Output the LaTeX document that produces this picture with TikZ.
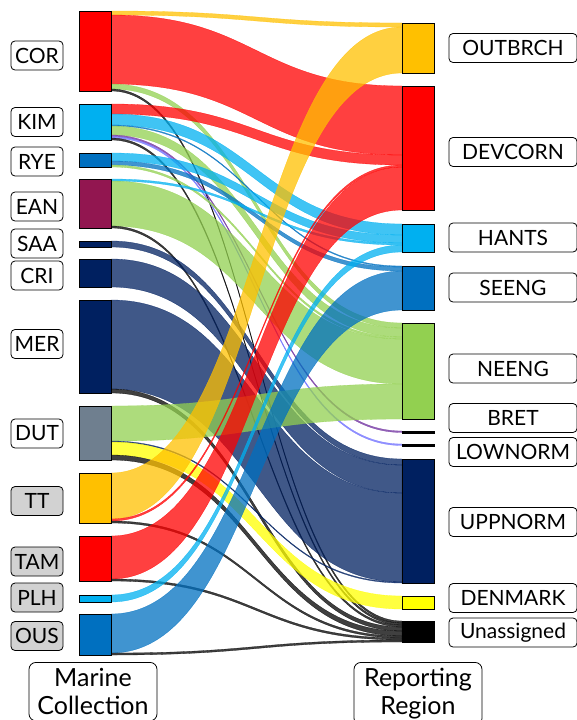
\documentclass[tikz,border=0pt]{standalone}
\usepackage{fontspec}
\setmainfont{Lato}
\usetikzlibrary{calc, backgrounds}
\definecolor{cred}{HTML}{FF0000}
\definecolor{csky}{HTML}{00B0F0}
\definecolor{cblue}{HTML}{0070C0}
\definecolor{cwine}{HTML}{921650}
\definecolor{cnavy}{HTML}{002060}
\definecolor{cslate}{HTML}{6F7F8F}
\definecolor{camber}{HTML}{FFC000}
\definecolor{clime}{HTML}{92D050}
\definecolor{cyell}{HTML}{FFFF00}
\definecolor{cpurp}{HTML}{7030A0}
\definecolor{cviol}{HTML}{6F6FFF}

% band from source node to region node: src, offset, dst, offset, width, colour
\newcommand{\sflow}[6]{%
  \fill[flow, #6] ($(#1.north east)+(0,#2)$) .. controls +(145,0) and +(-145,0) .. ($(#3.north west)+(0,#4)$)
    -- ($(#3.north west)+(0,#4+#5)$) .. controls +(-145,0) and +(145,0) .. ($(#1.north east)+(0,#2+#5)$) -- cycle;}

\begin{document}
\begin{tikzpicture}[x=1pt, y=-1pt, font=\fontsize{21}{28}\selectfont,
    bar/.style={draw, line width=0.8pt, anchor=north west, minimum width=32, inner sep=0, outer sep=0},
    llab/.style={draw, line width=0.8pt, rounded corners=4pt, minimum width=52, minimum height=29, inner sep=0, fill=white},
    rlab/.style={llab, minimum width=128},
    ttl/.style={draw, line width=0.8pt, rounded corners=7pt, align=center, anchor=north, minimum width=128,
        inner ysep=6, font=\fontsize{25}{28}\selectfont},
    flow/.style={fill opacity=0.75, draw=white, draw opacity=0.8, line width=0.3pt}]
    \useasboundingbox (0,0) rectangle (577,720);

    % marine collections
    \node[bar, fill=cred, minimum height=80] (cor) at (79,11) {};
    \node[bar, fill=csky, minimum height=36] (kim) at (79,104) {};
    \node[bar, fill=cblue, minimum height=14] (rye) at (79,153) {};
    \node[bar, fill=cwine, minimum height=49] (ean) at (79,179) {};
    \node[bar, fill=cnavy, minimum height=6] (saa) at (79,241) {};
    \node[bar, fill=cnavy, minimum height=28] (cri) at (79,259) {};
    \node[bar, fill=cnavy, minimum height=93] (mer) at (79,300) {};
    \node[bar, fill=cslate, minimum height=54] (dut) at (79,406) {};
    \node[bar, fill=camber, minimum height=50] (tt) at (79,473) {};
    \node[bar, fill=cred, minimum height=45] (tam) at (79,536) {};
    \node[bar, fill=csky, minimum height=7] (plh) at (79,595) {};
    \node[bar, fill=cblue, minimum height=41] (ous) at (79,614) {};

    % reporting regions
    \node[bar, fill=camber, minimum height=50] (outbrch) at (402,23) {};
    \node[bar, fill=cred, minimum height=124] (devcorn) at (402,86) {};
    \node[bar, fill=csky, minimum height=28] (hants) at (402,224) {};
    \node[bar, fill=cblue, minimum height=44] (seeng) at (402,266) {};
    \node[bar, fill=clime, minimum height=96] (neeng) at (402,323) {};
    \node[bar, fill=black, minimum height=2] (bret) at (402,431) {};
    \node[bar, fill=black, minimum height=2] (lownorm) at (402,444) {};
    \node[bar, fill=cnavy, minimum height=124] (uppnorm) at (402,459) {};
    \node[bar, fill=cyell, minimum height=13] (denmark) at (402,596) {};
    \node[bar, fill=black, minimum height=21] (unass) at (402,621) {};

    \begin{scope}[on background layer]
        \sflow{cor}{0}{outbrch}{0}{4}{camber}
        \sflow{cor}{4}{devcorn}{0}{69}{cred}
        \sflow{cor}{73}{neeng}{0}{5}{clime}
        \sflow{cor}{78}{unass}{0}{2}{black}
        \sflow{kim}{0}{devcorn}{69}{10}{cred}
        \sflow{kim}{10}{hants}{0}{11}{csky}
        \sflow{kim}{21}{seeng}{0}{1}{cblue}
        \sflow{kim}{22}{neeng}{5}{9}{clime}
        \sflow{kim}{31}{bret}{0}{1.5}{cpurp}
        \sflow{kim}{32.5}{lownorm}{0}{1.5}{cviol}
        \sflow{kim}{34}{unass}{2}{2}{black}
        \sflow{rye}{0}{hants}{11}{8}{csky}
        \sflow{rye}{8}{seeng}{1}{4}{cblue}
        \sflow{rye}{12}{neeng}{14}{2}{clime}
        \sflow{ean}{0}{hants}{19}{2}{csky}
        \sflow{ean}{2}{neeng}{16}{45}{clime}
        \sflow{ean}{47}{unass}{4}{2}{black}
        \sflow{saa}{0}{uppnorm}{0}{6}{cnavy}
        \sflow{cri}{0}{uppnorm}{6}{28}{cnavy}
        \sflow{mer}{0}{uppnorm}{34}{89}{cnavy}
        \sflow{mer}{89}{unass}{6}{4}{black}
        \sflow{dut}{0}{neeng}{61}{35}{clime}
        \sflow{dut}{35}{uppnorm}{123}{1}{cnavy}
        \sflow{dut}{36}{denmark}{0}{13}{cyell}
        \sflow{dut}{49}{unass}{10}{5}{black}
        \sflow{tt}{0}{outbrch}{4}{46}{camber}
        \sflow{tt}{46}{devcorn}{79}{2}{cred}
        \sflow{tt}{48}{unass}{15}{2}{black}
        \sflow{tam}{0}{devcorn}{81}{43}{cred}
        \sflow{tam}{43}{unass}{17}{2}{black}
        \sflow{plh}{0}{hants}{21}{7}{csky}
        \sflow{ous}{0}{seeng}{5}{39}{cblue}
        \sflow{ous}{39}{unass}{19}{2}{black}
    \end{scope}

    % labels
    \node[llab] (corl) at (37,55.5) {COR};
    \node[llab] (kiml) at (37,122) {KIM};
    \node[llab] (ryel) at (37,161.5) {RYE};
    \node[llab] (eanl) at (37,206.5) {EAN};
    \node[llab] (saal) at (37,243.5) {SAA};
    \node[llab] (cril) at (37,275.5) {CRI};
    \node[llab] (merl) at (37,344) {MER};
    \node[llab] (dutl) at (37,433.5) {DUT};
    \node[llab, fill=gray!35] (ttl) at (37,501) {TT};
    \node[llab, fill=gray!35] (taml) at (37,561.5) {TAM};
    \node[llab, fill=gray!35] (plhl) at (37,597.5) {PLH};
    \node[llab, fill=gray!35] (ousl) at (37,636) {OUS};

    \node[rlab] (outbrchl) at (513,48) {OUTBRCH};
    \node[rlab] (devcornl) at (513,152) {DEVCORN};
    \node[rlab] (hantsl) at (513,237.5) {HANTS};
    \node[rlab] (seengl) at (513,287.5) {SEENG};
    \node[rlab] (neengl) at (513,368.5) {NEENG};
    \node[rlab] (bretl) at (513,418) {BRET};
    \node[rlab] (lownorml) at (513,452) {LOWNORM};
    \node[rlab] (uppnorml) at (513,522) {UPPNORM};
    \node[rlab] (denmarkl) at (513,598) {DENMARK};
    \node[rlab] (unassl) at (513,632.5) {Unassigned};

    \node[ttl] (mc) at (93,662) {Marine\\Collection};
    \node[ttl] (rr) at (418,662) {Reporting\\Region};
\end{tikzpicture}
\end{document}
